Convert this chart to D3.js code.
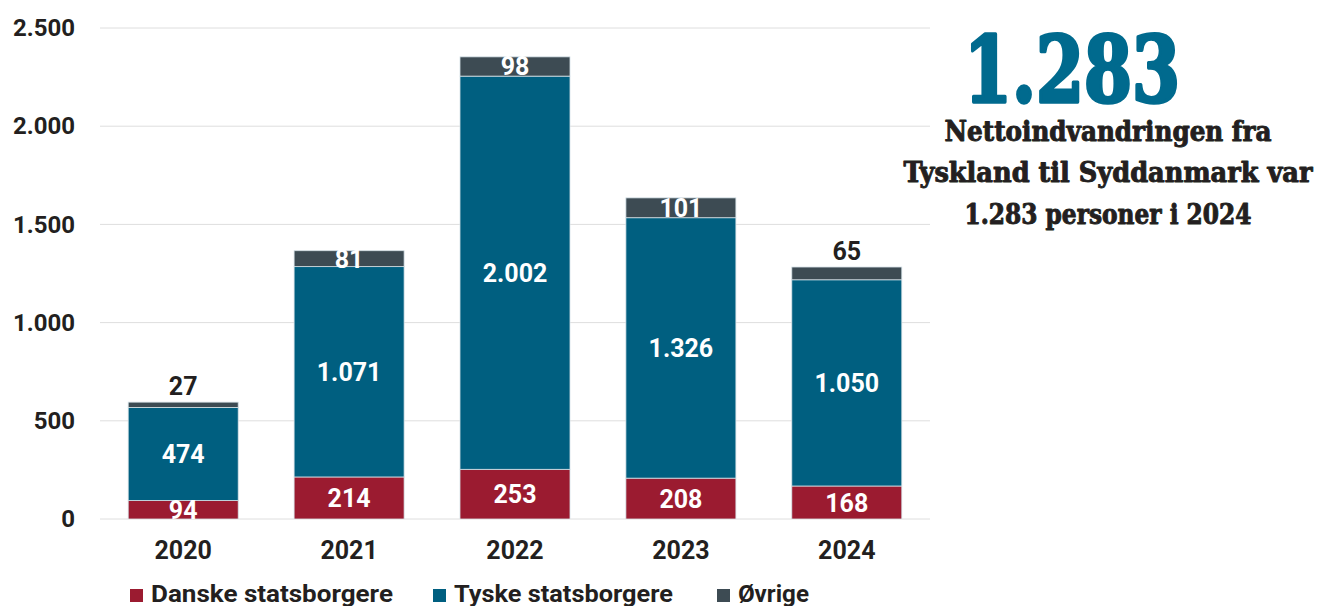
<!DOCTYPE html>
<html>
<head>
<meta charset="utf-8">
<script src="https://cdn.jsdelivr.net/npm/d3@7"></script>
<style>
  body { margin: 0; background: #fff; }
  svg text { font-family: Roboto, "Noto Sans", sans-serif; font-weight: 700; }
  .slab { font-family: "DejaVu Serif Condensed", "DejaVu Serif", serif; font-weight: 700; }
</style>
</head>
<body>
<div id="chart"></div>
<script>
// data
var years = ["2020", "2021", "2022", "2023", "2024"];
var danske = [94, 214, 253, 208, 168];
var tyske = [474, 1071, 2002, 1326, 1050];
var ovrige = [27, 81, 98, 101, 65];
var seriesNames = ["Danske statsborgere", "Tyske statsborgere", "Øvrige"];
var yTicks = [0, 500, 1000, 1500, 2000, 2500];
var noteLines = ["Nettoindvandringen fra", "Tyskland til Syddanmark var", "1.283 personer i 2024"];

var colors = ["#9b1b30", "#005f80", "#3d4b53"];
var W = 1322, H = 606;
var margin = {top: 28, right: 392, bottom: 87, left: 100};
var width = W - margin.left - margin.right;
var height = H - margin.top - margin.bottom;

var loc = d3.formatLocale({decimal: ",", thousands: ".", grouping: [3], currency: ["", " kr."]});
var fmt = loc.format(",d");

var svg = d3.select("#chart").append("svg")
    .attr("width", W)
    .attr("height", H);

var g = svg.append("g")
    .attr("transform", "translate(" + margin.left + "," + margin.top + ")");

var x = d3.scaleBand()
    .domain(years)
    .range([0, width])
    .paddingInner(0.337)
    .paddingOuter(0.17);

var y = d3.scaleLinear()
    .domain([0, 2500])
    .range([height, 0]);

// gridlines
g.selectAll(".grid")
  .data(yTicks)
  .enter().append("line")
    .attr("x1", 0)
    .attr("x2", width)
    .attr("y1", function(d) { return y(d); })
    .attr("y2", function(d) { return y(d); })
    .attr("stroke", "#dedede")
    .attr("stroke-width", 1);

// y axis labels
var yAxis = g.append("g")
    .call(d3.axisLeft(y).tickValues(yTicks).tickSize(0).tickPadding(25).tickFormat(fmt));
yAxis.select(".domain").remove();
yAxis.selectAll("text")
    .style("font-size", "24px")
    .attr("fill", "#231f20")
    .attr("font-family", "Roboto")
    .attr("font-weight", 700);

// x axis labels
var xAxis = g.append("g")
    .attr("transform", "translate(0," + height + ")")
    .call(d3.axisBottom(x).tickSize(0).tickPadding(22));
xAxis.select(".domain").remove();
xAxis.selectAll("text")
    .style("font-size", "25px")
    .attr("fill", "#231f20")
    .attr("font-family", "Roboto")
    .attr("font-weight", 700);

// stack
var rows = years.map(function(yr, i) {
  return {year: yr, d: danske[i], t: tyske[i], o: ovrige[i]};
});
var stack = d3.stack().keys(["d", "t", "o"]);
var stacked = stack(rows);

svg.append("defs").append("clipPath")
    .attr("id", "plotclip")
  .append("rect")
    .attr("x", 0).attr("y", -40)
    .attr("width", width).attr("height", height + 40);

var plot = g.append("g").attr("clip-path", "url(#plotclip)");

var layer = plot.selectAll(".layer")
  .data(stacked)
  .enter().append("g")
    .attr("class", "layer")
    .attr("fill", function(d, i) { return colors[i]; });

layer.selectAll("rect")
  .data(function(d) { return d; })
  .enter().append("rect")
    .attr("x", function(d) { return x(d.data.year); })
    .attr("y", function(d) { return y(d[1]); })
    .attr("width", x.bandwidth())
    .attr("height", function(d) { return y(d[0]) - y(d[1]); })
    .attr("stroke", "#d5e1e7")
    .attr("stroke-width", 0.8);

// value labels
stacked.forEach(function(s, si) {
  plot.selectAll(".lab" + si)
    .data(s)
    .enter().append("text")
      .attr("x", function(d) { return x(d.data.year) + x.bandwidth() / 2; })
      .attr("y", function(d) {
        var v = d[1] - d[0];
        if (si == 2 && v < 75) return y(d[1]) - 7;
        return (y(d[0]) + y(d[1])) / 2 + 9;
      })
      .attr("text-anchor", "middle")
      .style("font-size", "25px")
      .attr("fill", function(d) {
        var v = d[1] - d[0];
        return (si == 2 && v < 75) ? "#231f20" : "#ffffff";
      })
      .text(function(d) { return fmt(d[1] - d[0]); });
});

// legend
var legendX = [130, 433, 717];
var legendW = [242, 219, 71];
var legend = svg.selectAll(".legend")
  .data(seriesNames)
  .enter().append("g")
    .attr("class", "legend")
    .attr("transform", function(d, i) { return "translate(" + legendX[i] + ",589)"; });
legend.append("rect")
    .attr("width", 13)
    .attr("height", 13)
    .attr("fill", function(d, i) { return colors[i]; });
legend.append("text")
    .attr("x", 21)
    .attr("y", 13)
    .style("font-size", "23px")
    .attr("fill", "#231f20")
    .text(function(d) { return d; })
    .each(function(d, i) {
      var len = this.getComputedTextLength();
      var k = legendW[i] / len;
      d3.select(this).attr("transform", "translate(21,0) scale(" + k + ",1) translate(-21,0)");
    });

// big number annotation
var total2024 = danske[4] + tyske[4] + ovrige[4];
var big = svg.append("text")
    .attr("class", "slab")
    .attr("x", 1072)
    .attr("y", 102)
    .attr("text-anchor", "middle")
    .style("font-size", "92px")
    .attr("fill", "#006a8e")
    .attr("stroke", "#006a8e")
    .attr("stroke-width", 3.5)
    .attr("stroke-linejoin", "round")
    .text(fmt(total2024));
(function() {
  var len = big.node().getComputedTextLength();
  var k = 216 / len;
  big.attr("transform", "translate(1072,0) scale(" + k + ",1) translate(-1072,0)");
})();

var noteW = [327, 409, 287];
svg.selectAll(".note")
  .data(noteLines)
  .enter().append("text")
    .attr("class", "slab")
    .attr("x", 1108)
    .attr("y", function(d, i) { return 141 + i * 41.5; })
    .attr("text-anchor", "middle")
    .style("font-size", "27px")
    .attr("fill", "#231f20")
    .attr("stroke", "#231f20")
    .attr("stroke-width", 0.9)
    .attr("stroke-linejoin", "round")
    .text(function(d) { return d; })
    .each(function(d, i) {
      var len = this.getComputedTextLength();
      var k = noteW[i] / len;
      d3.select(this).attr("transform", "translate(1108,0) scale(" + k + ",1) translate(-1108,0)");
    });
</script>
</body>
</html>
